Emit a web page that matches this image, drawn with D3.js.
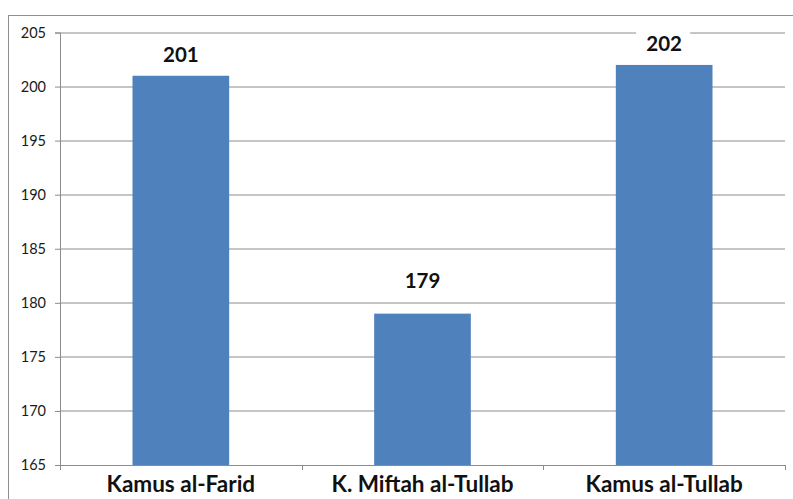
<!DOCTYPE html>
<html>
<head>
<meta charset="utf-8">
<script src="https://cdn.jsdelivr.net/npm/d3@7"></script>
<style>
  html, body { margin: 0; padding: 0; background: #fff; }
  svg { display: block; }
</style>
</head>
<body>
<div id="chart"></div>
<script>
// chart data
const categories = ['Kamus al-Farid', 'K. Miftah al-Tullab', 'Kamus al-Tullab']
const values = [201, 179, 202]
const yTicks = [165, 170, 175, 180, 185, 190, 195, 200, 205]

// label lift above bar top (px), the middle label sits higher in the original
const labelGap = [14, 26, 14]

const width = 793
const height = 499
const margin = { top: 32.5, right: 8, bottom: 34, left: 60 }
const innerW = width - margin.left - margin.right
const innerH = height - margin.top - margin.bottom

const gridColor = '#8c8c8c'
const barColor = '#4f81bd'
const font = 'Lato, "Open Sans", sans-serif'

const svg = d3
  .select('#chart')
  .append('svg')
  .attr('width', width)
  .attr('height', height)

// outer chart frame (cropped at right and bottom)
svg
  .append('rect')
  .attr('x', 8.5)
  .attr('y', 15.5)
  .attr('width', width + 10)
  .attr('height', height + 10)
  .attr('fill', '#fff')
  .attr('stroke', '#8f8f8f')
  .attr('stroke-width', 1)

const chart = svg
  .append('g')
  .attr('transform', `translate(${margin.left},${margin.top})`)

const x = d3.scaleBand().domain(categories).range([0, innerW]).padding(0)
const y = d3.scaleLinear().domain([165, 205]).range([innerH, 0])

// gridlines
chart
  .selectAll('.grid')
  .data(yTicks.slice(1))
  .enter()
  .append('line')
  .attr('class', 'grid')
  .attr('x1', 0)
  .attr('x2', innerW)
  .attr('y1', d => Math.round(y(d)) + 0.5)
  .attr('y2', d => Math.round(y(d)) + 0.5)
  .attr('stroke', gridColor)
  .attr('stroke-width', 1)

// y axis
const yAxis = chart
  .append('g')
  .call(d3.axisLeft(y).tickValues(yTicks).tickSize(5).tickPadding(9))
yAxis.select('.domain').attr('stroke', gridColor)
yAxis.selectAll('.tick line').attr('stroke', gridColor)
yAxis
  .selectAll('.tick text')
  .attr('fill', '#1a1a1a')
  .style('font-family', font)
  .style('font-size', '14.5px')

// x axis: ticks at band boundaries
const xAxis = chart.append('g').attr('transform', `translate(0,${innerH})`)
xAxis
  .append('line')
  .attr('x1', 0)
  .attr('x2', innerW)
  .attr('y1', 0.5)
  .attr('y2', 0.5)
  .attr('stroke', gridColor)
xAxis
  .selectAll('.xtick')
  .data(d3.range(categories.length + 1))
  .enter()
  .append('line')
  .attr('class', 'xtick')
  .attr('x1', i => Math.round(i * x.step()) + 0.5)
  .attr('x2', i => Math.round(i * x.step()) + 0.5)
  .attr('y1', 0)
  .attr('y2', 5)
  .attr('stroke', gridColor)
xAxis
  .selectAll('.xlabel')
  .data(categories)
  .enter()
  .append('text')
  .attr('class', 'xlabel')
  .attr('x', d => x(d) + x.bandwidth() / 2)
  .attr('y', 27)
  .attr('text-anchor', 'middle')
  .attr('fill', '#111')
  .style('font-family', font)
  .style('font-weight', 'bold')
  .style('font-size', '22.5px')
  .text(d => d)

// bars, gap width 150%
const barW = x.bandwidth() / 2.5
chart
  .selectAll('.bar')
  .data(values)
  .enter()
  .append('rect')
  .attr('class', 'bar')
  .attr('x', (d, i) => x(categories[i]) + (x.bandwidth() - barW) / 2)
  .attr('width', barW)
  .attr('y', d => y(d))
  .attr('height', d => innerH - y(d))
  .attr('fill', barColor)

// value labels with white backing
const labels = chart
  .selectAll('.bar-label')
  .data(values)
  .enter()
  .append('g')
  .attr('class', 'bar-label')
  .attr(
    'transform',
    (d, i) =>
      `translate(${x(categories[i]) + x.bandwidth() / 2},${y(d) - labelGap[i]})`,
  )
labels
  .append('rect')
  .attr('x', -28)
  .attr('y', -21)
  .attr('width', 54)
  .attr('height', 26)
  .attr('fill', '#fff')
labels
  .append('text')
  .attr('text-anchor', 'middle')
  .attr('fill', '#111')
  .style('font-family', font)
  .style('font-weight', 'bold')
  .style('font-size', '20.5px')
  .text(d => d)
</script>
</body>
</html>
